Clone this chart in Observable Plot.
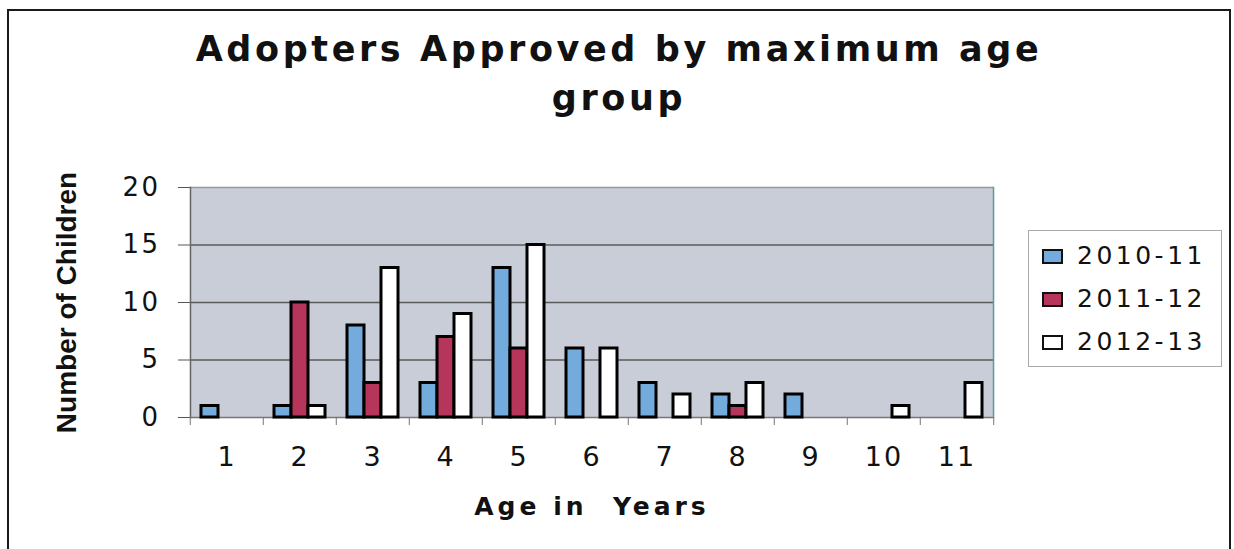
<!DOCTYPE html>
<html>
<head>
<meta charset="utf-8">
<script src="https://cdn.jsdelivr.net/npm/d3@7"></script>
<script src="https://cdn.jsdelivr.net/npm/@observablehq/plot@0.6"></script>
<style>
  html, body { margin: 0; padding: 0; background: #fff; }
  #wrap { position: relative; width: 1234px; height: 549px; overflow: hidden; background: #fff; }
  #border { position: absolute; left: 7px; top: 9px; width: 1224px; height: 620px; border: 2px solid #1a1a1a; box-sizing: border-box; }
  #title { position: absolute; left: 0; top: 25px; width: 1234px; padding-left: 4px; box-sizing: border-box; text-align: center;
           font-family: "DejaVu Sans", sans-serif; font-weight: bold; font-size: 35px; line-height: 49px; letter-spacing: 3.6px; color: #111; }
  #chart { position: absolute; left: 0; top: 0; }
  #legend { position: absolute; left: 1028px; top: 230px; width: 194px; height: 137px; border: 1.5px solid #aaa; box-sizing: border-box; background: #fff; }
  .row { position: absolute; left: 13px; height: 24px; font-family: "DejaVu Sans", sans-serif; font-size: 25px; line-height: 24px; letter-spacing: 3.5px; color: #111; white-space: nowrap; }
  .sw { position: absolute; left: 0; top: 5px; width: 21px; height: 15px; border: 2px solid #111; box-sizing: border-box; }
  .lab { position: absolute; left: 35px; top: 0; }
  g[aria-label="fx-axis tick label"] text { letter-spacing: 2px; }
  g[aria-label="y-axis tick label"] text { letter-spacing: 2.5px; }
  g[aria-label="fx-axis label"] text { letter-spacing: 4px; }
</style>
</head>
<body>
<div id="wrap">
  <div id="border"></div>
  <div id="chart"></div>
  <div id="title"></div>
  <div id="legend"></div>
</div>
<script>
// ---- data ----
const titleLines = ["Adopters Approved by maximum age", "group"];
const xLabel = "Age in \u00a0Years";
const yLabel = "Number of Children";
const ages = [1, 2, 3, 4, 5, 6, 7, 8, 9, 10, 11];
const series = ["2010-11", "2011-12", "2012-13"];
const values2010_11 = [1, 1, 8, 3, 13, 6, 3, 2, 2, 0, 0];
const values2011_12 = [0, 10, 3, 7, 6, 0, 0, 1, 0, 0, 0];
const values2012_13 = [0, 1, 13, 9, 15, 6, 2, 3, 0, 1, 3];
const yTicks = [0, 5, 10, 15, 20];
const colors = ["#74abdd", "#b5355b", "#ffffff"];

// ---- build table ----
const seriesValues = [values2010_11, values2011_12, values2012_13];
const data = [];
ages.forEach((a, i) => series.forEach((s, j) => data.push({age: a, series: s, value: seriesValues[j][i]})));

const W = 1234, H = 549, mL = 187, mR = 239, mT = 187, mB = 132;
const halfBand = (W - mL - mR) / ages.length / 2;

const chart = Plot.plot({
  width: W, height: H,
  marginLeft: mL, marginRight: mR, marginTop: mT, marginBottom: mB,
  style: {fontFamily: "'DejaVu Sans', sans-serif", fontSize: "26px", color: "#111", background: "transparent", overflow: "visible"},
  fx: {domain: ages, padding: 0},
  x: {domain: series, paddingInner: 0, paddingOuter: 0.62, axis: null},
  y: {domain: [yTicks[0], yTicks[yTicks.length - 1]]},
  color: {domain: series, range: colors},
  marks: [
    Plot.frame({fill: "#c9cdd7", stroke: null, inset: -0.6}),
    Plot.gridY(yTicks.slice(1, -1), {stroke: "#5a5a5a", strokeOpacity: 1, strokeWidth: 1.5}),
    Plot.ruleY([yTicks[yTicks.length - 1]], {stroke: "#9a9a9a", strokeWidth: 1.5}),
    Plot.ruleY([0], {stroke: "#777", strokeWidth: 1.5}),
    Plot.frame({anchor: "left", facetAnchor: "left", stroke: "#666", strokeWidth: 1.5}),
    Plot.frame({anchor: "right", facetAnchor: "right", stroke: "#5f9a98", strokeWidth: 1.5}),
    Plot.barY(data, {fx: "age", x: "series", y: "value", fill: "series", stroke: "#000", strokeWidth: 3, filter: d => d.value > 0}),
    Plot.axisY({ticks: yTicks, tickSize: 12, tickPadding: 18, stroke: "#555", fontSize: 26, label: null}),
    Plot.axisY({ticks: [], tickSize: 0, label: yLabel, labelArrow: "none", labelAnchor: "center", labelOffset: 134,
                fontFamily: "'Liberation Sans', Arial, sans-serif", fontWeight: "bold", fontSize: 28}),
    Plot.axisFx({anchor: "bottom", tickSize: 0, tickPadding: 29, fontSize: 27, label: null}),
    Plot.axisFx({anchor: "bottom", ticks: [], tickSize: 0, label: xLabel, labelArrow: "none", labelAnchor: "center", labelOffset: 97,
                 fontWeight: "bold", fontSize: 25}),
    Plot.axisFx({anchor: "bottom", tickSize: 8, text: null, label: null, stroke: "#777", dx: -halfBand}),
    Plot.axisFx({anchor: "bottom", ticks: [ages[ages.length - 1]], tickSize: 8, text: null, label: null, stroke: "#777", dx: halfBand})
  ]
});
document.getElementById("chart").appendChild(chart);

// ---- title ----
document.getElementById("title").innerHTML = titleLines.join("<br>");

// ---- legend ----
const legend = document.getElementById("legend");
series.forEach((s, i) => {
  const row = document.createElement("div");
  row.className = "row";
  row.style.top = (13 + i * 43) + "px";
  const sw = document.createElement("div");
  sw.className = "sw";
  sw.style.background = colors[i];
  const lab = document.createElement("div");
  lab.className = "lab";
  lab.textContent = s;
  row.appendChild(sw);
  row.appendChild(lab);
  legend.appendChild(row);
});
</script>
</body>
</html>
